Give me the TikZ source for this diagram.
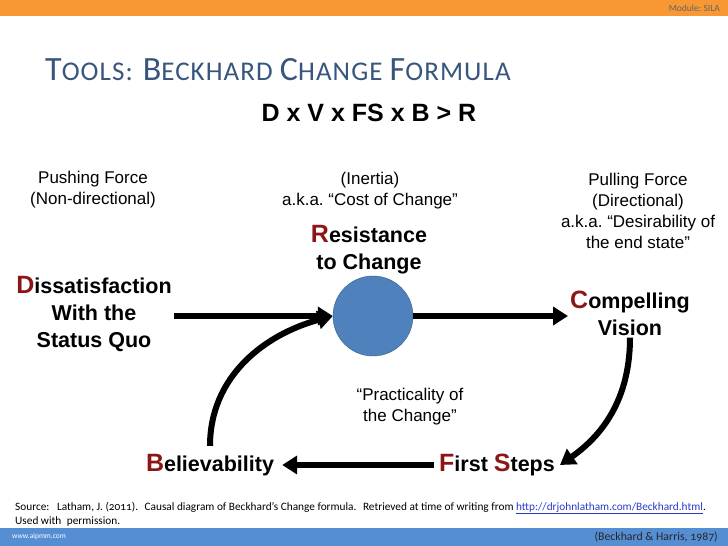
\documentclass[tikz,border=0pt]{standalone}
\usepackage{fontspec}
\setmainfont{Liberation Sans}
\newfontfamily\calibri[Numbers=OldStyle]{Carlito}
\usetikzlibrary{arrows.meta,positioning,calc}
\frenchspacing

\definecolor{topbar}{RGB}{247,152,52}
\definecolor{botbar}{RGB}{86,142,212}
\definecolor{titleblue}{RGB}{56,86,125}
\definecolor{initred}{RGB}{140,22,22}
\definecolor{ballfill}{RGB}{79,129,189}
\definecolor{balledge}{RGB}{56,93,138}
\definecolor{linkblue}{RGB}{40,60,200}

\newcommand{\ini}[1]{{\fontsize{25}{25}\selectfont\color{initred}#1}}
\newcommand{\titlecap}[1]{{\fontsize{34}{34}\selectfont #1}}

\begin{document}
\begin{tikzpicture}[x=1pt,y=-1pt,
  plain/.style={align=center, font=\fontsize{17}{21}\selectfont, inner sep=0pt},
  key/.style={align=center, font=\bfseries\fontsize{21.5}{27}\selectfont, inner sep=2pt},
  arr/.style={-{Triangle[length=15pt,width=18pt]}, line width=6pt},
  foot/.style={font=\calibri\fontsize{11.3}{14}\selectfont, inner sep=0pt}
]
  \useasboundingbox (0,0) rectangle (728,546);
  % bars
  \fill[topbar] (0,0) rectangle (728,16);
  \fill[botbar] (0,528) rectangle (728,546);
  \node[font=\calibri\fontsize{9.5}{9.5}\selectfont, text=black!60, anchor=east, inner sep=0pt] (module) at (720,8) {Module: SILA};

  % title and formula
  \node[anchor=base west, text=titleblue, inner sep=0pt, font=\calibri\fontsize{27}{27}\selectfont\addfontfeature{LetterSpace=4}] (title) at (45,80)
    {\titlecap{T}OOLS:\hspace{10pt}\titlecap{B}ECKHARD \titlecap{C}HANGE \titlecap{F}ORMULA};
  \node[font=\bfseries\fontsize{25}{25}\selectfont, inner sep=0pt] (formula) at (369,113) {D x V x FS x B > R};

  % force descriptions
  \node[plain] (push) at (93,190) {Pushing Force\\(Non-directional)};
  \node[plain] (inertia) at (370,191) {(Inertia)\\a.k.a. “Cost of Change”};
  \node[plain] (pull) at (638,211) {Pulling Force\\(Directional)\\a.k.a. “Desirability of\\the end state”};
  \node[plain] (practical) at (410,407) {“Practicality of\\the Change”};

  % factors
  \node[key] (resl) at (369,250) {\ini{R}esistance\\to Change};
  \node[circle, draw=balledge, fill=ballfill, minimum size=80pt, inner sep=0pt] (res) at (373,316) {};
  \node[key] (dis) at (94,314) {\ini{D}issatisfaction\\With the\\Status Quo};
  \node[key] (cv) at (630,313) {\ini{C}ompelling\\Vision};
  \node[key, inner sep=5pt] (fs) at (497,465) {\ini{F}irst \ini{S}teps};
  \node[key, inner sep=8pt] (bel) at (210,465) {\ini{B}elievability};

  % arrows
  \draw[arr] (dis.east |- res.west) -- (res.west);
  \draw[arr] (res.east) -- (res.east -| cv.west);
  \draw[arr] (cv.south) to[out=-90, in=35] (fs.east);
  \draw[arr] (fs.west) -- (bel.east);
  \draw[arr] (bel.north) to[out=90, in=195] (res.west);

  % footer
  \node[foot, anchor=base west, align=left] (source) at (15,524)
    {Source:\hspace{5pt} Latham, J. (2011).\hspace{4pt} Causal diagram of Beckhard’s Change formula.\hspace{4pt} Retrieved at time of writing from {\color{linkblue}\underline{http://drjohnlatham.com/Beckhard.html}}.\\Used with\hspace{3pt} permission.};
  \node[font=\calibri\fontsize{7.5}{7.5}\selectfont, text=white, anchor=west, inner sep=0pt] (web) at (12,537) {www.aipmm.com};
  \node[font=\calibri\fontsize{11.8}{11.8}\selectfont, text=black!85, anchor=east, inner sep=0pt] (cite) at (718,537) {(Beckhard \& Harris, 1987)};
\end{tikzpicture}
\end{document}
